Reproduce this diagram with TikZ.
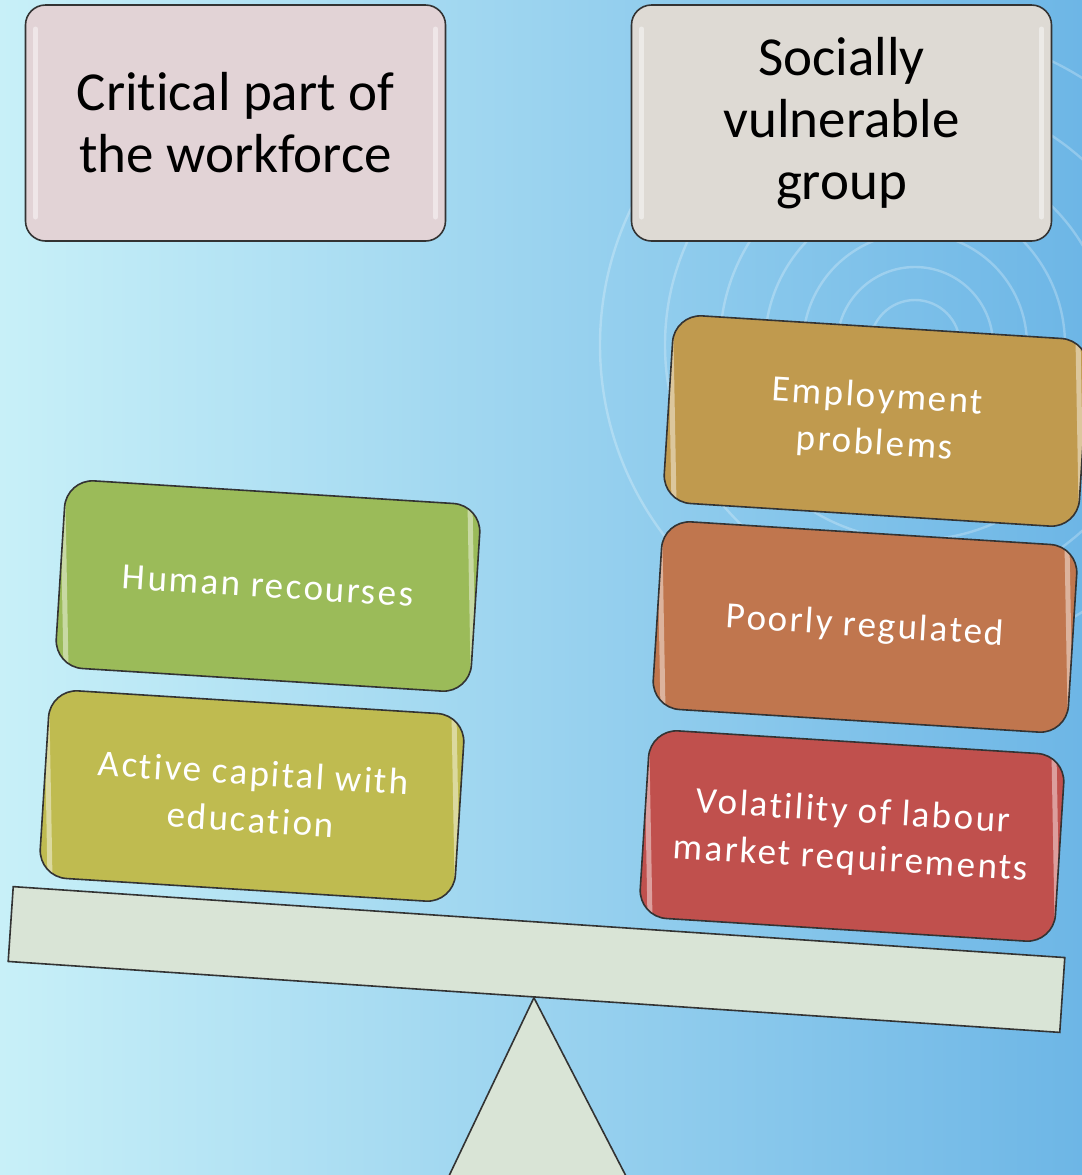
\documentclass[tikz,border=0pt]{standalone}
\usepackage{fontspec}
\setmainfont[RawFeature={-liga;-clig;-dlig;-calt}]{Carlito}
\newfontfamily\boxfont[LetterSpace=6, RawFeature={-liga;-clig;-dlig;-calt}]{Carlito}
\usetikzlibrary{positioning, shapes.geometric}

\definecolor{topleftfill}{HTML}{E2D3D6}
\definecolor{toprightfill}{HTML}{DEDAD4}
\definecolor{greenfill}{HTML}{9BBB59}
\definecolor{olivefill}{HTML}{BFBB50}
\definecolor{goldfill}{HTML}{C09A4E}
\definecolor{orangefill}{HTML}{C0764E}
\definecolor{redfill}{HTML}{C0504D}
\definecolor{beamfill}{HTML}{D9E4D6}
\definecolor{bgleft}{HTML}{C8F0F8}
\definecolor{bgmid}{HTML}{8CDAF4}
\definecolor{bgright}{HTML}{6DB6E6}

\tikzset{
  gloss/.style={path picture={
      \draw[white, opacity=0.45, line width=2.5pt, line cap=round]
        ([xshift=5pt,yshift=-12pt]path picture bounding box.north west) -- ([xshift=5pt,yshift=12pt]path picture bounding box.south west)
        ([xshift=-5pt,yshift=-12pt]path picture bounding box.north east) -- ([xshift=-5pt,yshift=12pt]path picture bounding box.south east);}},
  headbox/.style={draw=black!80, line width=0.8pt, rounded corners=10pt, minimum width=210pt, minimum height=118pt,
      align=center, text=black, font=\fontsize{27.5}{31}\selectfont, gloss},
  weightbox/.style={draw=black!80, line width=0.8pt, rounded corners=14pt, minimum width=208pt, minimum height=94pt,
      align=center, text=white, font=\boxfont\fontsize{18.5}{23.5}\selectfont, rotate=-3.6, gloss},
}

\begin{document}
\begin{tikzpicture}[x=0.5pt, y=-0.5pt]
      \useasboundingbox (0,0) rectangle (1082,1175);
      \clip (0,0) rectangle (1082,1175);
      \shade[left color=bgleft, middle color=bgmid, right color=bgright] (0,0) rectangle (1082,1175);
      \foreach \r in {45,78,112,150,195,250,315}
          \draw[white, opacity=0.25, line width=1.2pt] (915,345) circle[radius=\r];

      \node[headbox, fill=topleftfill] (critical) at (235.5,123) {Critical part of\\the workforce};
      \node[headbox, fill=toprightfill] (vulnerable) at (841.5,123) {Socially\\vulnerable\\group};

      \node[draw=black!80, line width=0.8pt, fill=beamfill, minimum width=527pt, minimum height=37.5pt, inner sep=0pt, rotate=-3.86] (beam) at (536.5,959.5) {};
      \draw[draw=black!80, line width=0.8pt, fill=beamfill] (beam.south) -- (627,1178) -- (448,1178) -- cycle;

      \node[weightbox, fill=greenfill] (human) at (268,586) {Human recourses};
      \node[weightbox, fill=olivefill] (active) at (252,796) {Active capital with\\education};
      \node[weightbox, fill=goldfill] (employment) at (876,421) {Employment\\problems};
      \node[weightbox, fill=orangefill] (poorly) at (865,627) {Poorly regulated};
      \node[weightbox, fill=redfill] (volatility) at (852,836) {Volatility of labour\\market requirements};
    \end{tikzpicture}
\end{document}
